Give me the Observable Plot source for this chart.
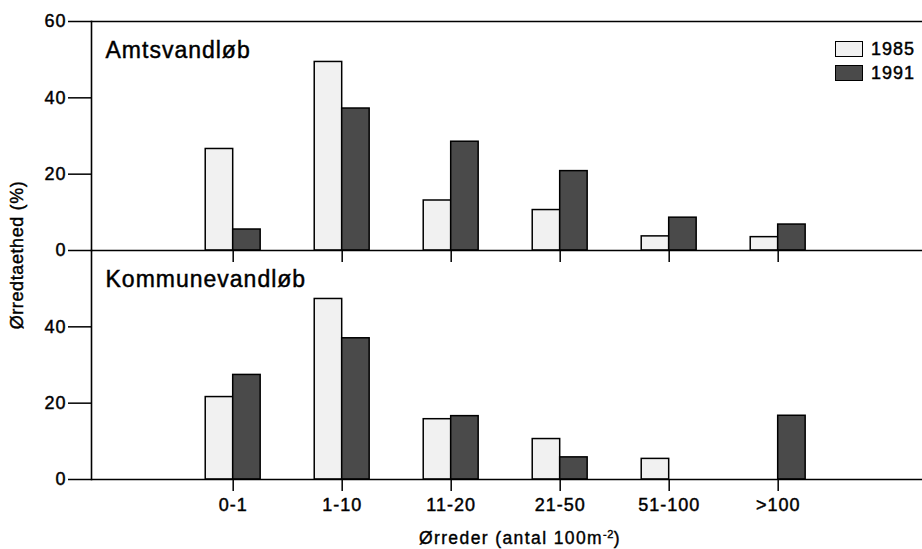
<!DOCTYPE html>
<html>
<head>
<meta charset="utf-8">
<script src="https://cdn.jsdelivr.net/npm/d3@7"></script>
<script src="https://cdn.jsdelivr.net/npm/@observablehq/plot@0.6"></script>
<style>
  body { margin: 0; background: #fff; font-family: "Liberation Sans", Arial, Helvetica, sans-serif; }
  #wrap { position: relative; width: 922px; height: 549px; overflow: hidden; }
  #chart svg text { letter-spacing: 1px; stroke: #000; stroke-width: 0.45px; }
  #ylabel { position: absolute; left: 17px; top: 255px; transform: translate(-50%, -50%) rotate(-90deg);
            font-size: 18px; letter-spacing: 0.6px; white-space: nowrap; color: #000; -webkit-text-stroke: 0.4px #000; }
  #xlabel { position: absolute; left: 320px; width: 400px; top: 528px; text-align: center;
            font-size: 17.5px; letter-spacing: 1.4px; white-space: nowrap; color: #000; line-height: 20px; -webkit-text-stroke: 0.4px #000; }
  #xlabel sup { font-size: 11px; letter-spacing: 0.5px; vertical-align: 6px; line-height: 0; }
  #legend { position: absolute; left: 835px; top: 37px; font-size: 18px; letter-spacing: 1px; -webkit-text-stroke: 0.45px #000; }
  .li { display: flex; align-items: center; height: 24px; }
  .sw { width: 26px; height: 14px; border: 1.2px solid #000; margin-right: 8px; }
</style>
</head>
<body>
<div id="wrap">
  <div id="chart"></div>
  <div id="ylabel">Ørredtaethed (%)</div>
  <div id="xlabel">Ørreder (antal 100m<sup>-2</sup>)</div>
  <div id="legend"></div>
</div>
<script>
// ---- data ----
const categories = ["0-1", "1-10", "11-20", "21-50", "51-100", ">100"];
const panels = ["Amtsvandløb", "Kommunevandløb"];
const years = ["1985", "1991"];
const amts1985 = [26.6, 49.4, 13.1, 10.6, 3.7, 3.5];
const amts1991 = [5.5, 37.2, 28.5, 20.8, 8.6, 6.8];
const komm1985 = [21.6, 47.3, 15.8, 10.6, 5.4, 0];
const komm1991 = [27.4, 37.0, 16.6, 5.8, 0, 16.7];
const yTicks = [0, 20, 40];
const yTopTick = [60];
const yearColors = ["#f1f1f1", "#4a4a4a"];

// ---- table ----
const series = {
  "Amtsvandløb": {"1985": amts1985, "1991": amts1991},
  "Kommunevandløb": {"1985": komm1985, "1991": komm1991}
};
const rows = [];
for (const p of panels) for (const y of years) categories.forEach((c, i) => {
  const v = series[p][y][i];
  if (v > 0) rows.push({panel: p, year: y, cat: c, i, value: v});
});
const catIdx = categories.map((c, i) => i);
const barW = 0.252;

const chart = Plot.plot({
  width: 922,
  height: 549,
  marginLeft: 91,
  marginRight: 0,
  marginTop: 21,
  marginBottom: 70,
  style: {fontFamily: '"Liberation Sans", Arial, Helvetica, sans-serif', color: "#000", background: "#fff"},
  x: {domain: [-1.3, 6.324]},
  y: {domain: [0, 60]},
  fy: {domain: panels, padding: 0, axis: null},
  color: {domain: years, range: yearColors},
  marks: [
    Plot.rectY(rows, {
      x1: d => d.i + (d.year === "1985" ? -barW : 0),
      x2: d => d.i + (d.year === "1985" ? 0 : barW),
      y: "value", fy: "panel", fill: "year", stroke: "#000", strokeWidth: 1.5
    }),
    Plot.frame({anchor: "left", stroke: "#000", strokeWidth: 1.6}),
    Plot.ruleY([0], {stroke: "#000", strokeWidth: 1.6}),
    Plot.ruleY(yTopTick, {y: d => d, fy: () => panels[0], insetLeft: -23, stroke: "#000", strokeWidth: 1.6}),
    Plot.text(yTopTick, {y: d => d, fy: () => panels[0], text: d => String(d), frameAnchor: "left",
      dx: -25, textAnchor: "end", fontSize: 18}),
    Plot.axisY(yTicks, {tickSize: 23, tickPadding: 2, fontSize: 18, label: null, strokeWidth: 1.5}),
    Plot.ruleX(catIdx, {x: d => d, y1: () => 0, y2: () => 0, insetBottom: -12, stroke: "#000", strokeWidth: 1.5}),
    Plot.axisX(catIdx, {tickSize: 0, tickPadding: 19, tickFormat: i => categories[i], fontSize: 18, label: null}),
    Plot.text(panels, {fy: d => d, text: d => d, frameAnchor: "top-left", dx: 14, dy: 20,
      lineAnchor: "top", fontSize: 23})
  ]
});
document.getElementById("chart").appendChild(chart);

// legend
const leg = document.getElementById("legend");
years.forEach((y, k) => {
  const row = document.createElement("div");
  row.className = "li";
  const sw = document.createElement("div");
  sw.className = "sw";
  sw.style.background = yearColors[k];
  const t = document.createElement("span");
  t.textContent = y;
  row.appendChild(sw); row.appendChild(t);
  leg.appendChild(row);
});
</script>
</body>
</html>
